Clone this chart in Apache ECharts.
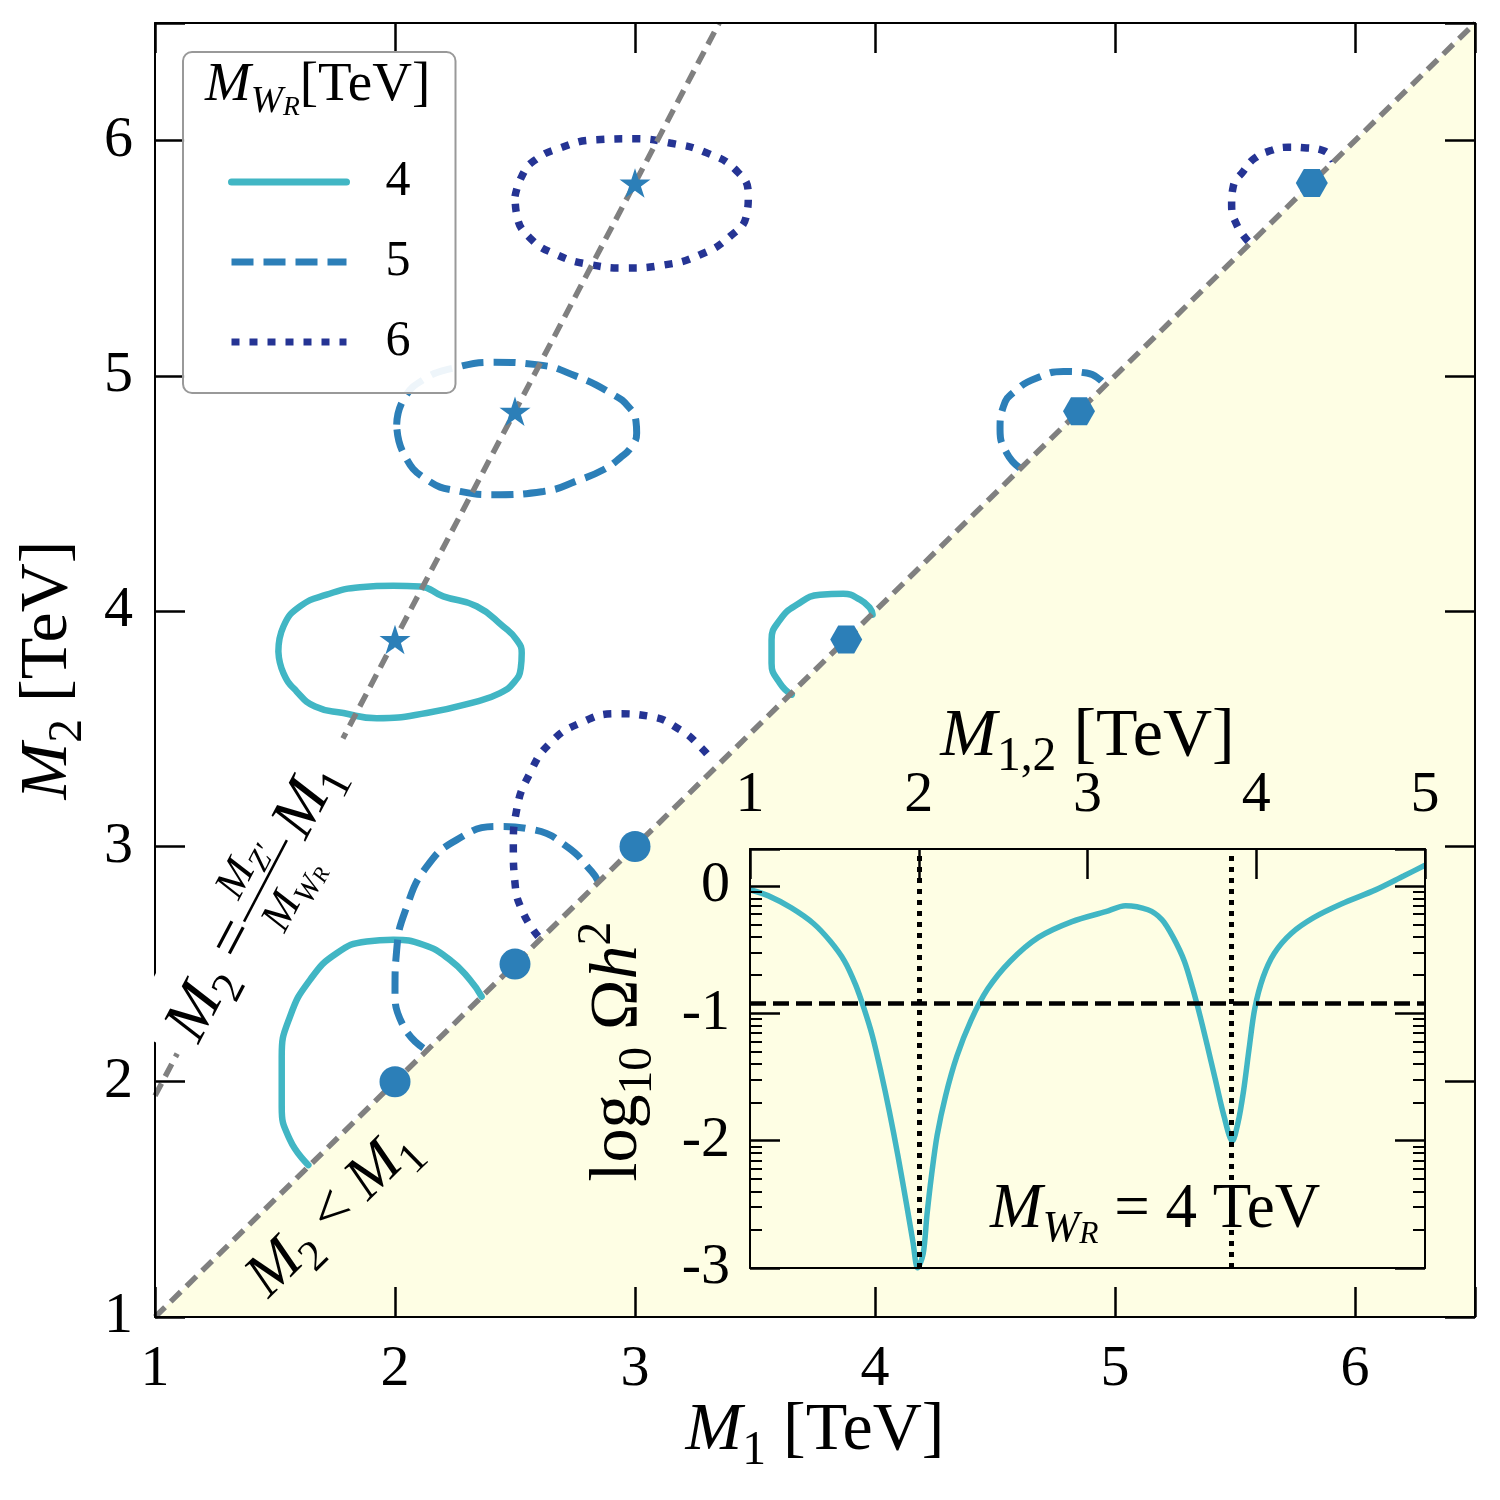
<!DOCTYPE html>
<html>
  <head>
    <meta charset="utf-8" />
    <title>M1 - M2 plane</title>
    <script src="https://cdn.jsdelivr.net/npm/echarts@6.0.0/dist/echarts.min.js"></script>
    <style>
      * {
        margin: 0;
        padding: 0;
        box-sizing: border-box;
      }
    </style>
  </head>
  <body>
    <div id="main" style="width: 1500px; height: 1500px"></div>
    <script type="text/javascript">
      var myChart = echarts.init(document.getElementById("main"));

      const SERIF = "'Liberation Serif', 'DejaVu Serif', serif";
      const cyan = "#41b6c4";
      const blue = "#2c7fb8";
      const navy = "#253494";
      const gray = "#808080";
      const cream = "#fefee4";

      // legend entries (M_WR in TeV) and M_Z'/M_WR
      const wrValues = ["4", "5", "6"];
      const zpRatio = 1.94;

      // relic density contours, [M1, M2] in TeV
      const wr4Loop = [[1.514,3.829],[1.535,3.935],[1.604,4.020],[1.715,4.070],[1.854,4.102],[1.993,4.108],[2.104,4.105],[2.201,4.063],[2.340,4.021],[2.451,3.935],[2.507,3.878],[2.528,3.822],[2.524,3.758],[2.493,3.694],[2.4375,3.652],[2.340,3.616],[2.132,3.567],[1.924,3.545],[1.785,3.567],[1.667,3.595],[1.590,3.659],[1.535,3.737],[1.514,3.829]];
      const wr4Low = [[1.639,1.646],[1.5625,1.753],[1.528,1.894],[1.528,2.107],[1.5625,2.277],[1.646,2.433],[1.757,2.546],[1.882,2.596],[1.993,2.603],[2.118,2.582],[2.229,2.518],[2.3125,2.433],[2.361,2.362]];
      const wr4Mid = [[3.653,3.645],[3.604,3.694],[3.569,3.779],[3.569,3.878],[3.604,3.963],[3.674,4.027],[3.771,4.070],[3.868,4.074],[3.9375,4.049],[3.979,4.013],[3.990,3.985]];

      const wr5Loop = [[2.007,4.793],[2.035,4.899],[2.118,4.984],[2.243,5.033],[2.410,5.058],[2.590,5.048],[2.757,4.998],[2.910,4.920],[2.972,4.870],[3.004,4.807],[3.007,4.757],[2.986,4.700],[2.9375,4.651],[2.868,4.601],[2.771,4.559],[2.618,4.509],[2.410,4.495],[2.271,4.509],[2.132,4.559],[2.035,4.672],[2.007,4.793]];
      const wr5Low = [[2.118,2.143],[2.035,2.236],[2.0,2.390],[2.007,2.560],[2.049,2.744],[2.132,2.914],[2.257,3.028],[2.424,3.085],[2.576,3.071],[2.715,3.000],[2.819,2.894],[2.847,2.851]];
      const wr5Mid = [[4.604,4.608],[4.549,4.672],[4.521,4.771],[4.535,4.870],[4.590,4.941],[4.674,4.991],[4.785,5.019],[4.882,5.012],[4.9375,4.984],[4.958,4.956]];

      const wr6Loop = [[2.5,5.763],[2.528,5.848],[2.576,5.912],[2.688,5.969],[2.840,6.004],[2.993,6.008],[3.146,5.990],[3.299,5.948],[3.424,5.871],[3.472,5.770],[3.465,5.685],[3.396,5.593],[3.271,5.515],[3.118,5.471],[2.965,5.459],[2.813,5.473],[2.674,5.515],[2.563,5.586],[2.507,5.685],[2.5,5.763]];
      const wr6Low = [[2.597,2.617],[2.535,2.716],[2.5,2.844],[2.493,3.0],[2.507,3.156],[2.5625,3.312],[2.646,3.439],[2.771,3.524],[2.924,3.564],[3.0625,3.553],[3.1875,3.496],[3.271,3.425],[3.326,3.361]];
      const wr6Mid = [[5.555,5.572],[5.507,5.643],[5.486,5.728],[5.493,5.806],[5.535,5.870],[5.583,5.926],[5.653,5.959],[5.722,5.972],[5.799,5.969],[5.875,5.955],[5.910,5.912]];

      // resonance points
      const circlePts = [[2, 2], [2.5, 2.5], [3, 3]];
      const starPts = [[2, 3.88], [2.5, 4.85], [3, 5.82]];
      const hexPts = [[3.88, 3.88], [4.85, 4.85], [5.82, 5.82]];

      // inset: log10(Omega h^2) vs M_{1,2}, M_WR = 4 TeV
      const insetM = [1.0, 1.11, 1.243, 1.376, 1.476, 1.56, 1.626, 1.676, 1.726, 1.776, 1.826, 1.876, 1.926, 1.966, 1.993, 2.026, 2.049, 2.076, 2.109, 2.159, 2.226, 2.309, 2.409, 2.542, 2.709, 2.908, 3.108, 3.225, 3.358, 3.441, 3.508, 3.574, 3.624, 3.668, 3.708, 3.758, 3.808, 3.858, 3.891, 3.924, 3.958, 3.991, 4.041, 4.107, 4.207, 4.34, 4.507, 4.707, 4.873, 5.0];
      const insetLog = [-0.03, -0.078, -0.171, -0.295, -0.435, -0.59, -0.777, -0.964, -1.181, -1.461, -1.772, -2.114, -2.487, -2.798, -3.0, -2.891, -2.58, -2.269, -1.958, -1.648, -1.337, -1.057, -0.808, -0.591, -0.404, -0.28, -0.202, -0.155, -0.187, -0.264, -0.404, -0.591, -0.808, -1.026, -1.243, -1.523, -1.803, -2.005, -1.865, -1.616, -1.274, -0.964, -0.715, -0.528, -0.373, -0.249, -0.14, -0.031, 0.078, 0.162];
      const insetRes = [2.0, 3.85];
      const omegaObs = 0.12;

      // log-style minor ticks on the inset y axis
      const insetMinor = [];
      for (let d = -3; d < 0; d++) {
        for (let k = 2; k <= 9; k++) insetMinor.push(d + Math.log10(k));
      }

      const STAR = "path://M100 0 L122.45 69.1 L195.1 69.1 L136.3 111.8 L158.8 180.9 L100 138.2 L41.2 180.9 L63.7 111.8 L4.9 69.1 L77.55 69.1 Z";
      const HEX = "path://M0 86.6 L50 0 L150 0 L200 86.6 L150 173.2 L50 173.2 Z";

      function mathRich(size) {
        return {
          m: { fontFamily: SERIF, fontStyle: "italic", fontSize: size, lineHeight: size * 1.3 },
          r: { fontFamily: SERIF, fontSize: size, lineHeight: size * 1.3 },
          s: { fontFamily: SERIF, fontSize: size * 0.7, lineHeight: size * 0.75, verticalAlign: "bottom" },
          si: { fontFamily: SERIF, fontStyle: "italic", fontSize: size * 0.7, lineHeight: size * 0.75, verticalAlign: "bottom" },
          ss: { fontFamily: SERIF, fontStyle: "italic", fontSize: size * 0.5, lineHeight: size * 0.3, verticalAlign: "bottom" },
          sup: { fontFamily: SERIF, fontSize: size * 0.7, lineHeight: size * 0.75, verticalAlign: "top" },
        };
      }
      function mathText(size, text, extra) {
        return Object.assign(
          {
            text: text,
            fontFamily: SERIF,
            fontSize: size,
            lineHeight: size * 1.3,
            fill: "#000",
            rich: mathRich(size),
          },
          extra || {}
        );
      }
      function nameStyle(size) {
        return { color: "#000", fontFamily: SERIF, fontSize: size, lineHeight: size * 1.3, rich: mathRich(size) };
      }

      const intOnly = (v) => (Math.abs(v - Math.round(v)) < 1e-9 ? String(Math.round(v)) : "");
      const tickLabel = { fontFamily: SERIF, fontSize: 58, color: "#000" };
      const axisLine = { onZero: false, lineStyle: { color: "#000", width: 2 } };
      const majorTick = { inside: true, length: 30, lineStyle: { color: "#000", width: 2.5 } };

      const contourStyle = {
        4: { color: cyan, width: 6.5, type: "solid", cap: "round" },
        5: { color: blue, width: 7, type: [22, 10], cap: "butt" },
        6: { color: navy, width: 7.5, type: [8, 10], cap: "butt" },
      };
      function contour(name, data) {
        const st = contourStyle[name];
        return {
          name: name,
          type: "line",
          xAxisIndex: 0,
          yAxisIndex: 0,
          data: data,
          symbol: "none",
          smooth: 0.5,
          z: 3,
          color: st.color,
          lineStyle: { color: st.color, width: st.width, type: st.type, cap: st.cap },
        };
      }

      var option = {
        backgroundColor: "#fff",
        animation: false,
        grid: [
          { left: 155, top: 23, right: 25, bottom: 183, outerBoundsMode: "none" },
          {
            left: 750,
            top: 849,
            width: 675,
            height: 419,
            show: true,
            backgroundColor: cream,
            borderWidth: 0,
            outerBoundsMode: "none",
          },
        ],
        legend: {
          data: wrValues,
          orient: "vertical",
          left: 183,
          top: 52,
          padding: [105, 45, 26, 45],
          itemGap: 30,
          itemWidth: 115,
          itemHeight: 20,
          backgroundColor: "rgba(255,255,255,0.92)",
          borderColor: "#999",
          borderWidth: 2,
          borderRadius: 9,
          selectedMode: false,
          itemStyle: { color: "rgba(0,0,0,0)", borderWidth: 0 },
          lineStyle: { width: 7 },
          textStyle: { fontFamily: SERIF, fontSize: 50, color: "#000", lineHeight: 40, padding: [0, 0, 0, 34] },
          z: 20,
        },
        xAxis: [
          {
            gridIndex: 0,
            type: "value",
            position: "bottom",
            min: 1,
            max: 6.5,
            interval: 1,
            z: 10,
            axisLine: axisLine,
            axisTick: majorTick,
            axisLabel: Object.assign({ margin: 24, formatter: intOnly }, tickLabel),
            splitLine: { show: false },
            name: "{m|M}{s|1} [TeV]",
            nameLocation: "middle",
            nameGap: 70,
            nameMoveOverlap: false,
            nameTextStyle: nameStyle(68),
          },
          {
            gridIndex: 0,
            type: "value",
            position: "top",
            min: 1,
            max: 6.5,
            interval: 1,
            z: 10,
            axisLine: axisLine,
            axisTick: majorTick,
            axisLabel: { show: false },
            splitLine: { show: false },
          },
          {
            gridIndex: 1,
            type: "value",
            position: "top",
            min: 1,
            max: 5,
            interval: 1,
            z: 10,
            axisLine: axisLine,
            axisTick: majorTick,
            axisLabel: Object.assign({ margin: 24, formatter: intOnly }, tickLabel),
            splitLine: { show: false },
            name: "{m|M}{s|1,2} [TeV]",
            nameLocation: "middle",
            nameGap: 68,
            nameMoveOverlap: false,
            nameTextStyle: nameStyle(68),
          },
          {
            gridIndex: 1,
            type: "value",
            position: "bottom",
            min: 1,
            max: 5,
            interval: 1,
            z: 10,
            axisLine: axisLine,
            axisTick: { show: false },
            axisLabel: { show: false },
            splitLine: { show: false },
          },
        ],
        yAxis: [
          {
            gridIndex: 0,
            type: "value",
            position: "left",
            min: 1,
            max: 6.5,
            interval: 1,
            z: 10,
            axisLine: axisLine,
            axisTick: majorTick,
            axisLabel: Object.assign({ margin: 22, formatter: intOnly }, tickLabel),
            splitLine: { show: false },
            name: "{m|M}{s|2} [TeV]",
            nameLocation: "middle",
            nameGap: 63,
            nameMoveOverlap: false,
            nameTextStyle: nameStyle(68),
          },
          {
            gridIndex: 0,
            type: "value",
            position: "right",
            min: 1,
            max: 6.5,
            interval: 1,
            z: 10,
            axisLine: axisLine,
            axisTick: majorTick,
            axisLabel: { show: false },
            splitLine: { show: false },
          },
          {
            gridIndex: 1,
            type: "value",
            position: "left",
            min: -3,
            max: 0.29,
            interval: 1,
            z: 10,
            axisLine: axisLine,
            axisTick: majorTick,
            axisLabel: Object.assign({ margin: 20, formatter: intOnly }, tickLabel),
            splitLine: { show: false },
            name: "{r|log}{s|10} Ω{m|h}{sup|2}",
            nameLocation: "middle",
            nameGap: 88,
            nameMoveOverlap: false,
            nameTextStyle: Object.assign(nameStyle(68), { padding: [0, 0, 0, 14] }),
          },
          {
            gridIndex: 1,
            type: "value",
            position: "right",
            min: -3,
            max: 0.29,
            interval: 1,
            z: 10,
            axisLine: axisLine,
            axisTick: majorTick,
            axisLabel: { show: false },
            splitLine: { show: false },
          },
          {
            gridIndex: 1,
            type: "value",
            position: "left",
            min: -3,
            max: 0.29,
            z: 10,
            axisLine: { show: false, onZero: false },
            axisTick: { inside: true, length: 12, customValues: insetMinor, lineStyle: { color: "#000", width: 2 } },
            axisLabel: { show: false },
            splitLine: { show: false },
          },
          {
            gridIndex: 1,
            type: "value",
            position: "right",
            min: -3,
            max: 0.29,
            z: 10,
            axisLine: { show: false, onZero: false },
            axisTick: { inside: true, length: 12, customValues: insetMinor, lineStyle: { color: "#000", width: 2 } },
            axisLabel: { show: false },
            splitLine: { show: false },
          },
        ],
        series: [
          // region M2 < M1
          {
            type: "line",
            xAxisIndex: 0,
            yAxisIndex: 0,
            data: [[1, 1], [6.5, 6.5]],
            symbol: "none",
            lineStyle: { width: 0 },
            areaStyle: { color: cream, opacity: 1, origin: "start" },
            z: 1,
          },
          contour("4", wr4Loop),
          contour("4", wr4Low),
          contour("4", wr4Mid),
          contour("5", wr5Loop),
          contour("5", wr5Low),
          contour("5", wr5Mid),
          contour("6", wr6Loop),
          contour("6", wr6Low),
          contour("6", wr6Mid),
          // M2 = M1
          {
            type: "line",
            xAxisIndex: 0,
            yAxisIndex: 0,
            data: [[1, 1], [6.5, 6.5]],
            symbol: "none",
            lineStyle: { color: gray, width: 5.5, type: [14, 8] },
            z: 4,
          },
          // M2 = (M_Z'/M_WR) M1
          {
            type: "line",
            xAxisIndex: 0,
            yAxisIndex: 0,
            data: [[1, zpRatio], [6.5 / zpRatio, 6.5]],
            symbol: "none",
            lineStyle: { color: gray, width: 5.5, type: [14, 8] },
            z: 4,
          },
          {
            type: "scatter",
            xAxisIndex: 0,
            yAxisIndex: 0,
            data: circlePts,
            symbol: "circle",
            symbolSize: 31,
            itemStyle: { color: blue, opacity: 1 },
            z: 6,
          },
          {
            type: "scatter",
            xAxisIndex: 0,
            yAxisIndex: 0,
            data: starPts,
            symbol: STAR,
            symbolSize: 31,
            symbolKeepAspect: true,
            itemStyle: { color: blue, opacity: 1 },
            z: 6,
          },
          {
            type: "scatter",
            xAxisIndex: 0,
            yAxisIndex: 0,
            data: hexPts,
            symbol: HEX,
            symbolSize: [32, 28],
            itemStyle: { color: blue, opacity: 1 },
            z: 6,
          },
          // inset curve
          {
            name: "omega",
            type: "line",
            xAxisIndex: 2,
            yAxisIndex: 2,
            data: insetM.map((m, i) => [m, insetLog[i]]),
            symbol: "none",
            smooth: 0.3,
            lineStyle: { color: cyan, width: 5.5 },
            z: 3,
            markLine: {
              silent: true,
              symbol: "none",
              label: { show: false },
              z: 5,
              data: insetRes
                .map((x) => ({ xAxis: x, lineStyle: { color: "#000", width: 5, type: [5, 6] } }))
                .concat([{ yAxis: Math.log10(omegaObs), lineStyle: { color: "#000", width: 4.5, type: [16, 7] } }]),
            },
          },
        ],
        graphic: [
          {
            type: "text",
            x: 205,
            y: 86,
            z: 100,
            style: mathText(55, "{m|M}{si|W}{ss|R}[TeV]", { verticalAlign: "middle", align: "left" }),
          },
          {
            type: "group",
            x: 258,
            y: 895,
            rotation: 1.0866,
            z: 100,
            children: [
              { type: "rect", z: 100, shape: { x: -178, y: -54, width: 356, height: 110 }, style: { fill: "#fff" } },
              { type: "text", z: 101, x: -160, y: 0, style: mathText(64, "{m|M}{s|2} =", { verticalAlign: "middle", align: "left" }) },
              { type: "line", z: 101, shape: { x1: -30, y1: 0, x2: 62, y2: 0 }, style: { stroke: "#000", lineWidth: 2.5 } },
              { type: "text", z: 101, x: 16, y: -26, style: mathText(44, "{m|M}{si|Z′}", { verticalAlign: "middle", align: "center" }) },
              { type: "text", z: 101, x: 16, y: 30, style: mathText(44, "{m|M}{si|W}{ss|R}", { verticalAlign: "middle", align: "center" }) },
              { type: "text", z: 101, x: 70, y: 0, style: mathText(64, "{m|M}{s|1}", { verticalAlign: "middle", align: "left" }) },
            ],
          },
          {
            type: "text",
            x: 333,
            y: 1213,
            rotation: 0.7753,
            z: 100,
            style: mathText(62, "{m|M}{s|2} < {m|M}{s|1}", { verticalAlign: "middle", align: "center" }),
          },
          {
            type: "text",
            x: 990,
            y: 1210,
            z: 100,
            style: mathText(63, "{m|M}{si|W}{ss|R} = 4 TeV", { verticalAlign: "middle", align: "left" }),
          },
        ],
      };

      myChart.setOption(option);

      window.addEventListener("resize", function () {
        myChart.resize();
      });
    </script>
  </body>
</html>
